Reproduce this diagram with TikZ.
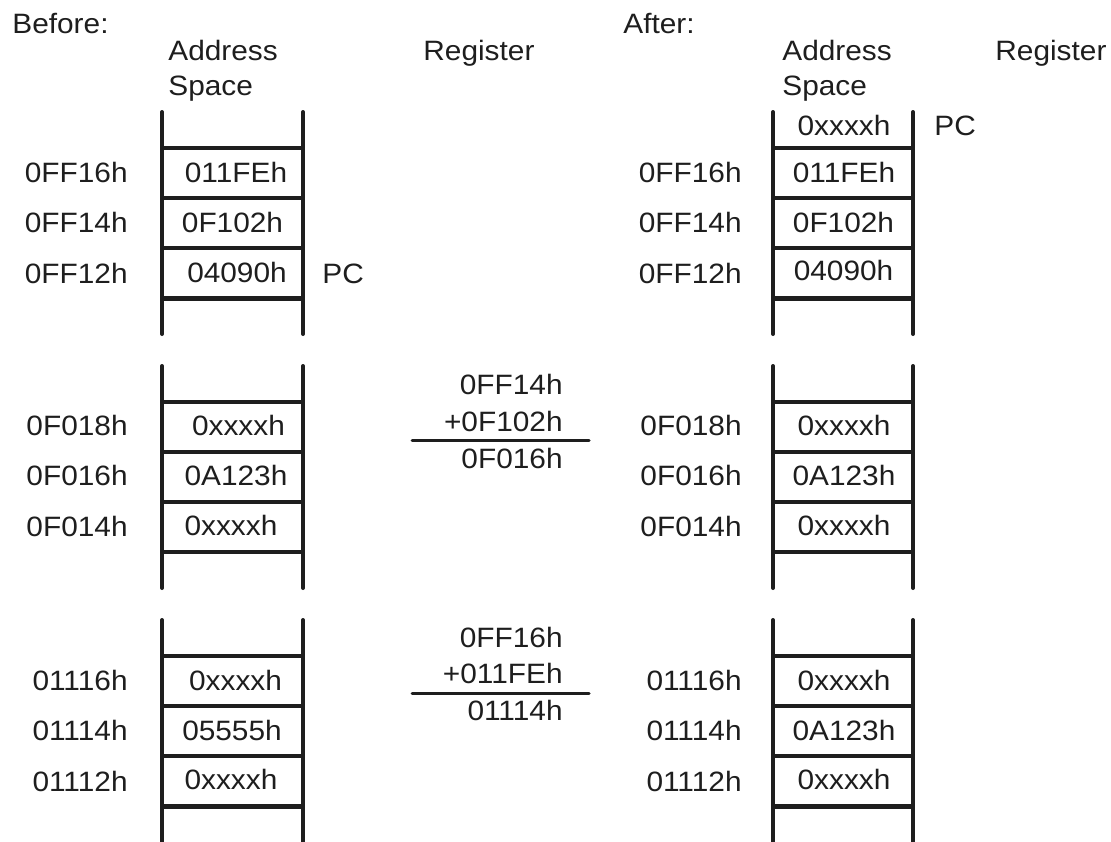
\documentclass[tikz,border=0pt]{standalone}
\usepackage{fontspec}
\setmainfont{Liberation Sans}[FakeStretch=1.065]
\definecolor{ink}{HTML}{1E1E1E}
\newcommand\memstack[4]{% xL, xR, top, style of last rung
  \draw[rail] (#1,#3) -- (#1,#3+222);
  \draw[rail] (#2,#3) -- (#2,#3+222);
  \draw[rung] (#1,#3+36) -- (#2,#3+36);
  \draw[rung] (#1,#3+86) -- (#2,#3+86);
  \draw[rung] (#1,#3+136) -- (#2,#3+136);
  \draw[#4] (#1,#3+186) -- (#2,#3+186);
}
\begin{document}
\begin{tikzpicture}[x=0.5pt,y=-0.5pt,
  rail/.style={line width=2pt,line cap=round,draw=ink},
  rung/.style={line width=1.7pt,draw=ink},
  thickrung/.style={line width=2.5pt,draw=ink},
  sumline/.style={line width=1.5pt,draw=ink,line cap=round},
  txt/.style={inner sep=0pt,text=ink,font=\fontsize{14}{17}\selectfont},
  lbl/.style={txt,anchor=base west},
  adr/.style={txt,anchor=base east},
  val/.style={txt,anchor=base}]
\useasboundingbox (0,0) rectangle (1111,841);

% headings
\node[lbl] (before) at (12,33) {Before:};
\node[lbl] (bAddr) at (168,60) {Address};
\node[lbl] (bSpace) at (168,95) {Space};
\node[lbl] (bReg) at (423,60) {Register};
\node[lbl] (after) at (623,33) {After:};
\node[lbl] (aAddr) at (782,60) {Address};
\node[lbl] (aSpace) at (782,95) {Space};
\node[lbl] (aReg) at (995,60) {Register};

% stacks
\memstack{162}{303}{112}{thickrung}
\memstack{162}{303}{366}{rung}
\memstack{162}{303}{620}{thickrung}
\memstack{773}{913}{112}{thickrung}
\memstack{773}{913}{366}{rung}
\memstack{773}{913}{620}{thickrung}

% ---- group 1 ----
\node[adr] (b1a1) at (128,182) {0FF16h};
\node[adr] (b1a2) at (128,232) {0FF14h};
\node[adr] (b1a3) at (128,283) {0FF12h};
\node[val] (b1v1) at (236,182) {011FEh};
\node[val] (b1v2) at (232.5,232) {0F102h};
\node[val] (b1v3) at (237,282) {04090h};
\node[lbl] (b1pc) at (322,283) {PC};

\node[adr] (a1a1) at (742,182) {0FF16h};
\node[adr] (a1a2) at (742,232) {0FF14h};
\node[adr] (a1a3) at (742,283) {0FF12h};
\node[val] (a1v0) at (844,135) {0xxxxh};
\node[val] (a1v1) at (844,182) {011FEh};
\node[val] (a1v2) at (843.5,232) {0F102h};
\node[val] (a1v3) at (843.5,280) {04090h};
\node[lbl] (a1pc) at (934,135) {PC};

% ---- group 2 ----
\node[adr] (b2a1) at (128,435) {0F018h};
\node[adr] (b2a2) at (128,485) {0F016h};
\node[adr] (b2a3) at (128,536) {0F014h};
\node[val] (b2v1) at (238.5,435) {0xxxxh};
\node[val] (b2v2) at (236,485) {0A123h};
\node[val] (b2v3) at (231,535) {0xxxxh};

\node[adr] (s1a) at (563,394) {0FF14h};
\node[adr] (s1b) at (563,431) {+0F102h};
\coordinate (s1l) at (412,440);
\coordinate (s1r) at (589,440);
\draw[sumline] (s1l) -- (s1r);
\node[adr] (s1c) at (563,468) {0F016h};

\node[adr] (a2a1) at (742,435) {0F018h};
\node[adr] (a2a2) at (742,485) {0F016h};
\node[adr] (a2a3) at (742,536) {0F014h};
\node[val] (a2v1) at (844,435) {0xxxxh};
\node[val] (a2v2) at (844,485) {0A123h};
\node[val] (a2v3) at (844,535) {0xxxxh};

% ---- group 3 ----
\node[adr] (b3a1) at (128,690) {01116h};
\node[adr] (b3a2) at (128,740) {01114h};
\node[adr] (b3a3) at (128,791) {01112h};
\node[val] (b3v1) at (235.5,690) {0xxxxh};
\node[val] (b3v2) at (232,740) {05555h};
\node[val] (b3v3) at (231,789) {0xxxxh};

\node[adr] (s2a) at (563,647) {0FF16h};
\node[adr] (s2b) at (563,683) {+011FEh};
\coordinate (s2l) at (412,693);
\coordinate (s2r) at (589,693);
\draw[sumline] (s2l) -- (s2r);
\node[adr] (s2c) at (563,720) {01114h};

\node[adr] (a3a1) at (742,690) {01116h};
\node[adr] (a3a2) at (742,740) {01114h};
\node[adr] (a3a3) at (742,791) {01112h};
\node[val] (a3v1) at (844,690) {0xxxxh};
\node[val] (a3v2) at (844,740) {0A123h};
\node[val] (a3v3) at (844,789) {0xxxxh};
\end{tikzpicture}
\end{document}
